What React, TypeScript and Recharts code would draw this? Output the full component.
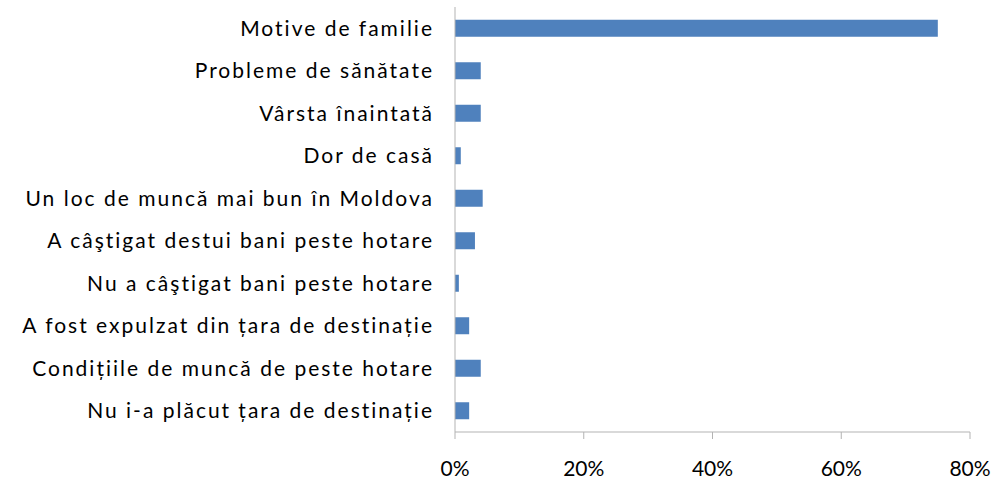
import React from 'react';
import { BarChart, Bar, XAxis, YAxis } from 'recharts';

// Reasons for returning home (share of respondents, %)
const reasons = [
  'Motive de familie',
  'Probleme de sănătate',
  'Vârsta înaintată',
  'Dor de casă',
  'Un loc de muncă mai bun în Moldova',
  'A câştigat destui bani peste hotare',
  'Nu a câştigat bani peste hotare',
  'A fost expulzat din țara de destinație',
  'Condițiile de muncă de peste hotare',
  'Nu i-a plăcut țara de destinație',
];
const shares = [75, 4.0, 4.0, 0.9, 4.3, 3.1, 0.6, 2.2, 4.0, 2.2];
const xTicks = [0, 20, 40, 60, 80];
const boundaryTicks = [0, 1, 2, 3, 4, 5, 6, 7, 8, 9, 10];

const data = reasons.map((name, i) => ({ name, value: shares[i] }));

const AXIS = '#b3b3b3';
const FONT = 'Lato, "Open Sans", sans-serif';

const App: React.FC = () => {
  return (
    <div style={{ position: 'absolute', left: 0, top: 0 }}>
      <BarChart
        width={995}
        height={484}
        data={data}
        layout="vertical"
        margin={{ top: 7, right: 25, bottom: 0, left: 0 }}
        barCategoryGap="30%"
      >
        <XAxis
          type="number"
          domain={[0, 80]}
          ticks={xTicks}
          tickFormatter={(v) => `${v}%`}
          height={52}
          tickSize={7}
          tickMargin={22}
          stroke={AXIS}
          tick={{ fill: '#000', fontSize: 21, fontFamily: FONT }}
        />
        <YAxis
          yAxisId="a"
          type="number"
          domain={[0, 10]}
          ticks={boundaryTicks}
          tick={false}
          width={7}
          tickSize={7}
          stroke={AXIS}
        />
        <YAxis
          yAxisId="b"
          type="category"
          dataKey="name"
          width={448}
          axisLine={false}
          tickLine={false}
          tickMargin={8}
          interval={0}
          tick={{ fill: '#000', fontSize: 21, fontFamily: FONT, letterSpacing: 2 }}
        />
        <Bar yAxisId="b" dataKey="value" fill="#4f81bd" isAnimationActive={false} />
      </BarChart>
    </div>
  );
};

export default App;
